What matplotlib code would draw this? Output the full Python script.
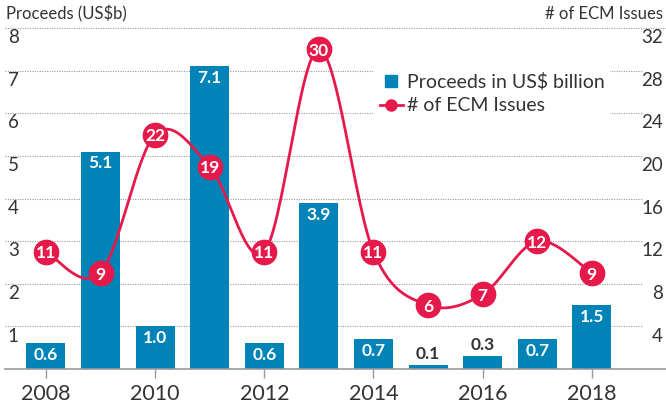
import numpy as np
import matplotlib
matplotlib.use("Agg")
import matplotlib.pyplot as plt
from matplotlib.lines import Line2D

plt.rcParams['font.family'] = ['Lato', 'DejaVu Sans']

# data
years = [2008, 2009, 2010, 2011, 2012, 2013, 2014, 2015, 2016, 2017, 2018]
proceeds = [0.6, 5.1, 1.0, 7.1, 0.6, 3.9, 0.7, 0.1, 0.3, 0.7, 1.5]
issues = [11, 9, 22, 19, 11, 30, 11, 6, 7, 12, 9]
year_ticks = [2008, 2010, 2012, 2014, 2016, 2018]
left_ticks = [1, 2, 3, 4, 5, 6, 7, 8]
right_ticks = [4, 8, 12, 16, 20, 24, 28, 32]

BLUE = '#0083B7'
RED = '#E6194B'
TXT = '#333333'
GRID = '#9a9a9a'


def catmull_rom(x, y, n=30):
    # smooth curve through the points (uniform catmull-rom)
    x = np.asarray(x, float)
    y = np.asarray(y, float)
    px = np.concatenate([[x[0]], x, [x[-1]]])
    py = np.concatenate([[y[0]], y, [y[-1]]])
    xs, ys = [], []
    for i in range(1, len(px) - 2):
        t = np.linspace(0, 1, n)
        mx0 = (px[i + 1] - px[i - 1]) / 2
        mx1 = (px[i + 2] - px[i]) / 2
        my0 = (py[i + 1] - py[i - 1]) / 2
        my1 = (py[i + 2] - py[i]) / 2
        h00 = 2 * t**3 - 3 * t**2 + 1
        h10 = t**3 - 2 * t**2 + t
        h01 = -2 * t**3 + 3 * t**2
        h11 = t**3 - t**2
        xs.append(h00 * px[i] + h10 * mx0 + h01 * px[i + 1] + h11 * mx1)
        ys.append(h00 * py[i] + h10 * my0 + h01 * py[i + 1] + h11 * my1)
    return np.concatenate(xs), np.concatenate(ys)


W, H = 666, 405
fig = plt.figure(figsize=(W / 100, H / 100), dpi=100)
ax = fig.add_axes([5 / W, 36 / H, 637 / W, 341 / H])
ax2 = ax.twinx()

ax.set_xlim(2007.25, 2018.92)
ax.set_ylim(0, 8)
ax2.set_ylim(0, 32)

for a in (ax, ax2):
    for s in a.spines.values():
        s.set_visible(False)
    a.set_yticks([])

# grid lines
for v in left_ticks:
    ext = 1 + 24 / 637 if v == 8 else 1
    ax.axhline(v, xmin=0, xmax=ext, color=GRID, lw=0.8, ls=(0, (1, 1.2)),
               zorder=0, clip_on=False)
ax.axhline(0, xmin=0, xmax=1 + 24 / 637, color='#999999', lw=1.2,
           zorder=3, clip_on=False)

# bars
bars = ax.bar(years, proceeds, width=0.715, color=BLUE, zorder=2)
for b, v in zip(bars, proceeds):
    cx = b.get_x() + b.get_width() / 2
    if v < 0.5:
        ax.annotate(f'{v:.1f}', (cx, v), xytext=(0, 2), textcoords='offset points',
                    ha='center', va='bottom', color=TXT, fontsize=12.5,
                    fontweight='bold', zorder=4)
    else:
        ax.annotate(f'{v:.1f}', (cx, v), xytext=(0, -8.5), textcoords='offset points',
                    ha='center', va='center', color='white', fontsize=12.5,
                    fontweight='bold', zorder=4)

# line
sx, sy = catmull_rom(years, issues)
ax2.plot(sx, sy, color=RED, lw=2, zorder=5, solid_capstyle='round')
ax2.plot(years, issues, 'o', ms=18.5, color=RED, mec=RED, mew=0, zorder=6)
for x, v in zip(years, issues):
    ax2.text(x, v, str(v), ha='center', va='center_baseline', color='white',
             fontsize=12.5, fontweight='bold', zorder=7)

# x axis
ax.set_xticks(year_ticks)
ax.set_xticklabels([str(y) for y in year_ticks], fontsize=15.5, color=TXT)
ax.tick_params(axis='x', length=6.5, width=1, color='#999999', pad=4)

# y labels inside plot area
for v in left_ticks:
    ax.annotate(str(v), (0, v), xycoords=ax.get_yaxis_transform(),
                xytext=(2, -7), textcoords='offset points', ha='left', va='center',
                fontsize=13.5, color=TXT)
for v in right_ticks:
    ax2.annotate(str(v), (1, v), xycoords=ax2.get_yaxis_transform(),
                 xytext=(15, -7), textcoords='offset points', ha='right', va='center',
                 fontsize=13.5, color=TXT)

fig.text(6 / W, 1 - 14 / H, 'Proceeds (US$b)', fontsize=12, color=TXT,
         ha='left', va='center')
fig.text(663 / W, 1 - 14 / H, '# of ECM Issues', fontsize=12, color=TXT,
         ha='right', va='center')

handles = [
    Line2D([], [], marker='s', ls='none', ms=9, color=BLUE),
    Line2D([], [], marker='o', ls='-', lw=2, ms=8, color=RED),
]
leg = ax2.legend(handles, ['Proceeds in US$ billion', '# of ECM Issues'],
                 loc='upper left', bbox_to_anchor=(364 / W, 1 - 57 / H),
                 bbox_transform=fig.transFigure, frameon=True, fontsize=14,
                 handlelength=1.2, handletextpad=0.2, labelspacing=0.35,
                 borderpad=0.3, labelcolor=TXT)
leg.get_frame().set_facecolor('white')
leg.get_frame().set_edgecolor('none')
leg.get_frame().set_alpha(1)
leg.set_zorder(4)

fig.savefig('out.png', dpi=100)
